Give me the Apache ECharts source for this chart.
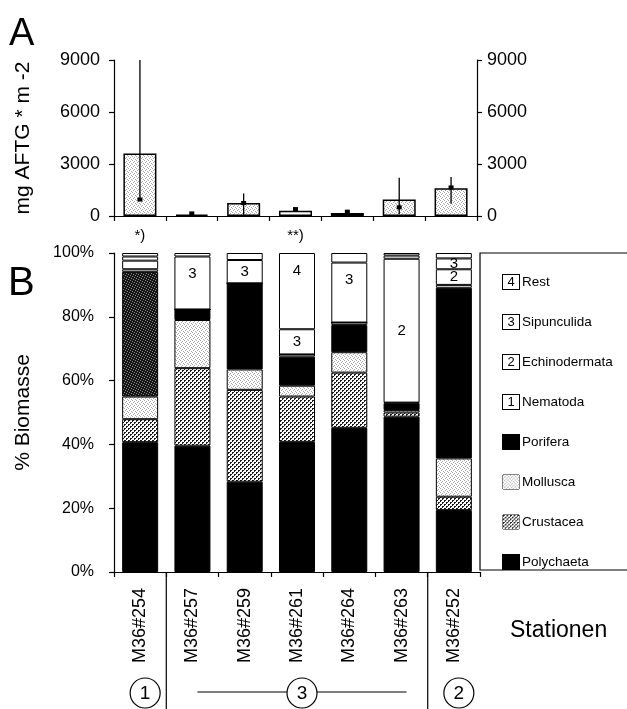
<!DOCTYPE html>
<html>
<head>
<meta charset="utf-8">
<script src="https://cdn.jsdelivr.net/npm/echarts@6/dist/echarts.min.js"></script>
<style>
  html, body { margin: 0; padding: 0; background: #fff; }
  #main { width: 627px; height: 709px; }
</style>
</head>
<body>
<div id="main"></div>
<script>
// Stations (x categories shared by both panels)
const stations = ['M36#254', 'M36#257', 'M36#259', 'M36#261', 'M36#264', 'M36#263', 'M36#252'];

// Panel A: total biomass, mg AFTG per m²
const biomassMean = [3600, 80, 750, 300, 170, 950, 1600];
const biomassLow  = [950, 40, 50, 300, 150, 100, 700];
const biomassHigh = [9000, 150, 1300, 450, 300, 2200, 2250];
const biomassMark = [950, 150, 750, 400, 250, 500, 1650];
const biomassNotes = ['*)', '', '', '**)', '', '', ''];
const biomassTicks = [0, 3000, 6000, 9000];

// Panel B: share of biomass per taxon, % (bottom to top)
const polychaeta    = [40.7, 39.6, 28.3, 40.8, 45.2, 48.7, 19.4];
const crustacea     = [7.2, 24.3, 28.8, 14.2, 17.3, 1.3, 4.2];
const mollusca      = [7.1, 15.1, 6.4, 3.4, 6.4, 0.8, 12.0];
const porifera      = [39.1, 3.3, 27.0, 9.1, 8.5, 2.1, 53.5];
const nematoda      = [0.8, 0, 0, 0.7, 0.8, 0.2, 0.9];
const echinodermata = [2.7, 0, 0, 0, 0, 45.1, 4.9];
const sipunculida   = [1.3, 16.6, 7.3, 7.9, 18.8, 1.0, 3.4];
const rest          = [1.1, 1.1, 2.2, 23.9, 3.0, 0.8, 1.7];
const percentTicks  = [0, 20, 40, 60, 80, 100];

// Station groups drawn under the axis labels
const groupLabels = ['1', '3', '2'];
const groupFirst  = [0, 1, 6];
const groupLast   = [0, 5, 6];

const FONT = 'Liberation Sans';

// ---- fill textures -------------------------------------------------------
function tile(size, bg, fg, dots) {
  const c = document.createElement('canvas');
  c.width = size; c.height = size;
  const g = c.getContext('2d');
  g.fillStyle = bg; g.fillRect(0, 0, size, size);
  g.fillStyle = fg;
  dots.forEach(([x, y]) => g.fillRect(x, y, 1, 1));
  return c;
}
function swatch(tileCanvas, w, h) {
  const c = document.createElement('canvas');
  c.width = w; c.height = h;
  const g = c.getContext('2d');
  g.fillStyle = g.createPattern(tileCanvas, 'repeat');
  g.fillRect(0, 0, w, h);
  return c;
}
const stippleTile = tile(4, '#ffffff', '#a8a8a8', [[0, 0], [2, 1], [1, 2], [3, 3]]);
const crossTile   = tile(4, '#ffffff', '#1a1a1a', [[0, 0], [1, 0], [0, 1], [2, 2], [3, 2], [2, 3]]);
const speckleTile = tile(5, '#151515', '#8a8a8a', [[0, 0], [2, 1], [4, 2], [1, 3], [3, 4]]);
const pat = t => ({ image: t, repeat: 'repeat' });

const stippleFill = pat(stippleTile);
const crossFill   = pat(crossTile);
const speckleFill = pat(speckleTile);

// Fill of the total-biomass bars
const biomassFill = [stippleFill, stippleFill, stippleFill, '#ffffff', '#000000', stippleFill, stippleFill];

// Taxon layers of the stacked bars
const layers = [
  { name: 'Polychaeta',    values: polychaeta,    fill: '#000000', sw: 'k', key: '' },
  { name: 'Crustacea',     values: crustacea,     fill: crossFill, sw: 'c', key: '' },
  { name: 'Mollusca',      values: mollusca,      fill: stippleFill, sw: 'm', key: '' },
  { name: 'Porifera',      values: porifera,      fill: '#000000', sw: 'k', key: '' },
  { name: 'Nematoda',      values: nematoda,      fill: '#ffffff', sw: 'w', key: '1' },
  { name: 'Echinodermata', values: echinodermata, fill: '#ffffff', sw: 'w', key: '2' },
  { name: 'Sipunculida',   values: sipunculida,   fill: '#ffffff', sw: 'w', key: '3' },
  { name: 'Rest',          values: rest,          fill: '#ffffff', sw: 'w', key: '4' }
];

const chart = echarts.init(document.getElementById('main'), null, { renderer: 'canvas' });

const axisLineStyle = { color: '#000', width: 1.2 };
const tickStyle = { color: '#000', width: 1.2 };
const plainNumber = v => String(v);

const barSeries = layers.map(L => ({
  name: L.name,
  type: 'bar',
  stack: 'share',
  xAxisIndex: 1,
  yAxisIndex: 2,
  barWidth: 36,
  itemStyle: { color: L.fill, borderColor: '#000', borderWidth: 1 },
  label: {
    show: !!L.key,
    color: '#000',
    fontFamily: FONT,
    fontSize: 15,
    formatter: p => (p.value >= 3.2 ? L.key : '')
  },
  emphasis: { disabled: true },
  data: L.values.map((v, i) => {
    const item = { value: v };
    if (L.key) {
      item.label = { position: (v > 12 && v <= 30) ? 'insideTop' : 'inside', distance: 10 };
    }
    if (L.name === 'Porifera' && i === 0) {
      item.itemStyle = { color: speckleFill };
    }
    return item;
  })
}));

const legendRich = {};
const swatchBase = {
  width: 16, height: 14, lineHeight: 14, align: 'center', verticalAlign: 'middle',
  borderColor: '#000', borderWidth: 1, fontSize: 13, color: '#000', fontFamily: FONT
};
legendRich.w = Object.assign({}, swatchBase, { backgroundColor: '#ffffff' });
legendRich.k = Object.assign({}, swatchBase, { backgroundColor: '#000000' });
legendRich.m = Object.assign({}, swatchBase, { backgroundColor: { image: swatch(stippleTile, 18, 16) } });
legendRich.c = Object.assign({}, swatchBase, { backgroundColor: { image: swatch(crossTile, 18, 16) } });
legendRich.t = { fontSize: 13.5, color: '#000', fontFamily: FONT, padding: [0, 0, 0, 3] };

chart.setOption({
  animation: false,
  backgroundColor: '#fff',
  textStyle: { fontFamily: FONT, color: '#000' },
  grid: [
    { left: 114, top: 60, width: 363, height: 156, outerBoundsMode: 'none' },
    { left: 114, top: 253, width: 366, height: 319, outerBoundsMode: 'none' }
  ],
  xAxis: [
    {
      gridIndex: 0, type: 'category', data: stations,
      axisLine: { show: true, lineStyle: axisLineStyle },
      axisTick: { show: true, length: 5, lineStyle: tickStyle },
      axisLabel: {
        interval: 0, margin: 12, fontSize: 15, color: '#000', fontFamily: FONT,
        formatter: (v, i) => biomassNotes[i]
      },
      splitLine: { show: false }
    },
    {
      gridIndex: 1, type: 'category', data: stations,
      axisLine: { show: true, lineStyle: axisLineStyle },
      axisTick: { show: true, length: 5, lineStyle: tickStyle },
      axisLabel: {
        interval: 0, rotate: 90, margin: 16, fontSize: 18, color: '#000', fontFamily: FONT,
        padding: [12, 0, 0, 0]
      },
      splitLine: { show: false }
    }
  ],
  yAxis: [
    {
      gridIndex: 0, type: 'value', position: 'left',
      min: biomassTicks[0], max: biomassTicks[biomassTicks.length - 1], interval: biomassTicks[1] - biomassTicks[0],
      name: 'mg AFTG * m -2', nameLocation: 'middle', nameRotate: 90, nameGap: 80,
      nameTextStyle: { fontSize: 21, color: '#000', fontFamily: FONT },
      axisLine: { show: true, lineStyle: axisLineStyle },
      axisTick: { show: true, length: 5, lineStyle: tickStyle },
      axisLabel: { margin: 14, fontSize: 18, color: '#000', fontFamily: FONT, formatter: plainNumber },
      splitLine: { show: false }
    },
    {
      gridIndex: 0, type: 'value', position: 'right',
      min: biomassTicks[0], max: biomassTicks[biomassTicks.length - 1], interval: biomassTicks[1] - biomassTicks[0],
      axisLine: { show: true, lineStyle: axisLineStyle },
      axisTick: { show: true, length: 5, lineStyle: tickStyle },
      axisLabel: { margin: 10, fontSize: 18, color: '#000', fontFamily: FONT, formatter: plainNumber },
      splitLine: { show: false }
    },
    {
      gridIndex: 1, type: 'value', position: 'left',
      min: percentTicks[0], max: percentTicks[percentTicks.length - 1], interval: percentTicks[1] - percentTicks[0],
      name: '% Biomasse', nameLocation: 'middle', nameRotate: 90, nameGap: 80,
      nameTextStyle: { fontSize: 21, color: '#000', fontFamily: FONT },
      axisLine: { show: true, lineStyle: axisLineStyle },
      axisTick: { show: true, length: 5, lineStyle: tickStyle },
      axisLabel: { margin: 20, fontSize: 16, color: '#000', fontFamily: FONT, formatter: '{value}%' },
      splitLine: { show: false }
    }
  ],
  legend: {
    orient: 'vertical',
    left: 492,
    top: 268,
    itemWidth: 0,
    itemHeight: 16,
    itemGap: 22,
    icon: 'rect',
    itemStyle: { opacity: 0 },
    selectedMode: false,
    data: layers.slice().reverse().map(L => L.name),
    formatter: name => {
      const L = layers.find(l => l.name === name);
      return '{' + L.sw + '|' + (L.key || ' ') + '}{t|' + name + '}';
    },
    textStyle: { fontSize: 13, color: '#000', fontFamily: FONT, rich: legendRich }
  },
  series: [
    {
      name: 'Biomasse',
      type: 'bar',
      xAxisIndex: 0, yAxisIndex: 0,
      barWidth: 33,
      itemStyle: { borderColor: '#000', borderWidth: 1.5 },
      emphasis: { disabled: true },
      data: biomassMean.map((v, i) => ({ value: v, itemStyle: { color: biomassFill[i] } }))
    },
    {
      name: 'Streuung',
      type: 'custom',
      xAxisIndex: 0, yAxisIndex: 0,
      clip: true,
      z: 5,
      encode: { x: 0, y: [1, 2, 3] },
      data: stations.map((s, i) => [i, biomassLow[i], biomassHigh[i], biomassMark[i]]),
      renderItem: (params, api) => {
        const lo = api.coord([api.value(0), api.value(1)]);
        const hi = api.coord([api.value(0), api.value(2)]);
        const mk = api.coord([api.value(0), api.value(3)]);
        return {
          type: 'group',
          children: [
            { type: 'line', shape: { x1: lo[0], y1: lo[1], x2: hi[0], y2: hi[1] },
              style: { stroke: '#000', lineWidth: 1.3 } },
            { type: 'rect', shape: { x: mk[0] - 2.5, y: mk[1] - 2, width: 5, height: 4 },
              style: { fill: '#000' } }
          ]
        };
      }
    }
  ].concat(barSeries)
});

// Frame, panel letters, station groups
const px = i => chart.convertToPixel({ xAxisIndex: 1 }, stations[i]);
const axisY = chart.convertToPixel({ yAxisIndex: 2 }, 0);
const labelShift = 5;
const groupY = 692;

const graphics = [
  { type: 'text', left: 9, top: 16, style: { text: 'A', fontSize: 38, fontFamily: FONT, fill: '#000' } },
  { type: 'text', left: 8, top: 264, style: { text: 'B', fontSize: 40, fontFamily: FONT, fill: '#000' } },
  { type: 'rect', shape: { x: 480, y: 253, width: 170, height: 317 },
    style: { fill: 'none', stroke: '#000', lineWidth: 1.2 } },
  { type: 'text', x: 510, y: 631, style: { text: 'Stationen', fontSize: 23, fontFamily: FONT, fill: '#000', verticalAlign: 'middle' } }
];

// separators between station groups
for (let g = 0; g < groupLast.length - 1; g++) {
  const xb = (px(groupLast[g]) + px(groupFirst[g + 1])) / 2;
  graphics.push({ type: 'line', shape: { x1: xb, y1: axisY, x2: xb, y2: 709 },
    style: { stroke: '#000', lineWidth: 1.2 } });
}
// group markers
groupLabels.forEach((lab, g) => {
  const cx = px(Math.round((groupFirst[g] + groupLast[g]) / 2)) + labelShift;
  if (groupLast[g] > groupFirst[g]) {
    graphics.push({ type: 'line',
      shape: { x1: px(groupFirst[g]) + labelShift, y1: groupY, x2: px(groupLast[g]) + labelShift, y2: groupY },
      style: { stroke: '#000', lineWidth: 1.2 } });
  }
  graphics.push({ type: 'circle', shape: { cx: cx, cy: groupY + 1, r: 15 },
    style: { fill: '#fff', stroke: '#000', lineWidth: 1.2 }, z: 10 });
  graphics.push({ type: 'text', x: cx, y: groupY + 2,
    style: { text: lab, fontSize: 19, fontFamily: FONT, fill: '#000', align: 'center', verticalAlign: 'middle' }, z: 11 });
});

chart.setOption({ graphic: graphics });
</script>
</body>
</html>
